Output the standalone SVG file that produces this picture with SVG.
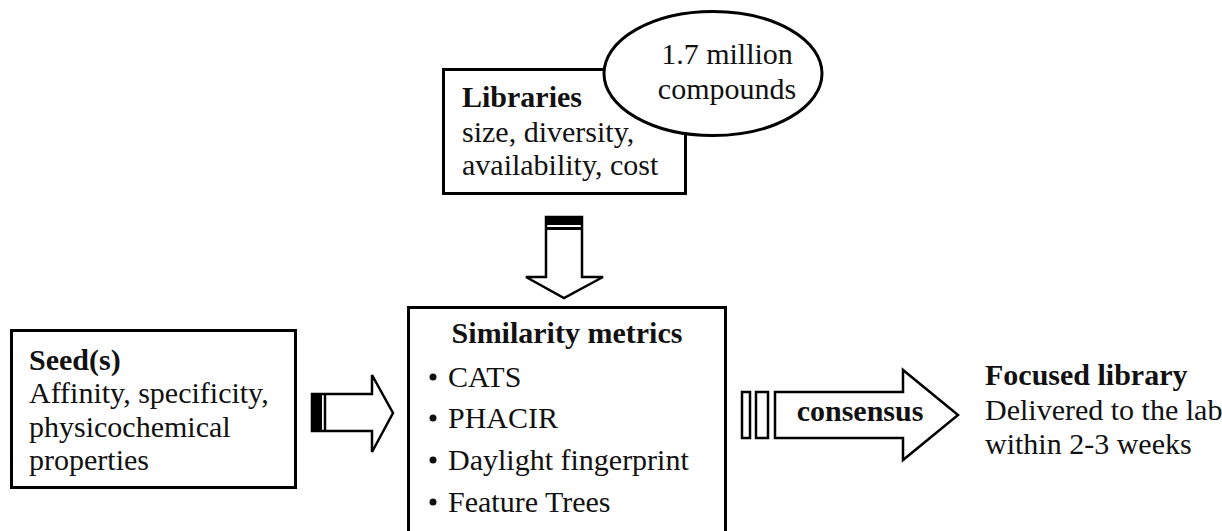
<svg xmlns="http://www.w3.org/2000/svg" width="1222" height="531" viewBox="0 0 1222 531">
<style>
.box{fill:#fff;stroke:#000;stroke-width:3}
.arr{fill:#fff;stroke:#000;stroke-width:2.5;stroke-linejoin:miter}
text{font-family:"Liberation Serif","Times New Roman",serif;font-size:30px;fill:#111}
.b{font-weight:bold}
.c{text-anchor:middle}
</style>
<rect width="1222" height="531" fill="#fff"/>
<g id="libraries">
<rect class="box" x="443.5" y="69.5" width="242" height="124"/>
<text x="462" y="107" class="b">Libraries</text>
<text x="462" y="142">size, diversity,</text>
<text x="462" y="175">availability, cost</text>
</g>
<g id="compounds">
<ellipse class="box" cx="713" cy="73.5" rx="109" ry="62"/>
<text x="727" y="64" class="c">1.7 million</text>
<text x="727" y="99" class="c">compounds</text>
</g>
<g id="seeds">
<rect class="box" x="11.5" y="330.5" width="284" height="157"/>
<text x="29" y="370" class="b">Seed(s)</text>
<text x="29" y="403">Affinity, specificity,</text>
<text x="29" y="437">physicochemical</text>
<text x="29" y="470">properties</text>
</g>
<g id="similarity">
<rect class="box" x="408.5" y="307.5" width="317" height="240"/>
<text x="567" y="343" class="b c">Similarity metrics</text>
<circle cx="433" cy="377" r="3.5" fill="#111"/>
<text x="448" y="387">CATS</text>
<circle cx="433" cy="418" r="3.5" fill="#111"/>
<text x="448" y="428">PHACIR</text>
<circle cx="433" cy="460" r="3.5" fill="#111"/>
<text x="448" y="470">Daylight fingerprint</text>
<circle cx="433" cy="502" r="3.5" fill="#111"/>
<text x="448" y="512">Feature Trees</text>
</g>
<g id="focused">
<text x="985" y="385" class="b">Focused library</text>
<text x="985" y="420">Delivered to the lab</text>
<text x="985" y="454">within 2-3 weeks</text>
</g>
<g id="connectors">
<g id="arrow-down">
<polygon class="arr" points="546,217 582,217 582,277 603,277 564,298 526,277 546,277"/>
<rect x="546" y="217" width="36" height="8" fill="#000"/>
<line x1="546" y1="228.5" x2="582" y2="228.5" stroke="#000" stroke-width="3"/>
</g>
<g id="arrow-right-seed">
<polygon class="arr" points="312,394 372,394 372,375 393,413 372,452 372,431 312,431"/>
<rect x="312" y="394" width="10" height="37" fill="#000"/>
<line x1="325" y1="394" x2="325" y2="431" stroke="#000" stroke-width="2.5"/>
</g>
<g id="arrow-consensus">
<rect class="arr" x="742" y="392" width="8" height="46"/>
<rect class="arr" x="756" y="392" width="12" height="46"/>
<polygon class="arr" points="775,392 903,392 903,370 958,415 903,460 903,438 775,438"/>
<text x="860" y="421" class="b c">consensus</text>
</g>
</g>
</svg>
